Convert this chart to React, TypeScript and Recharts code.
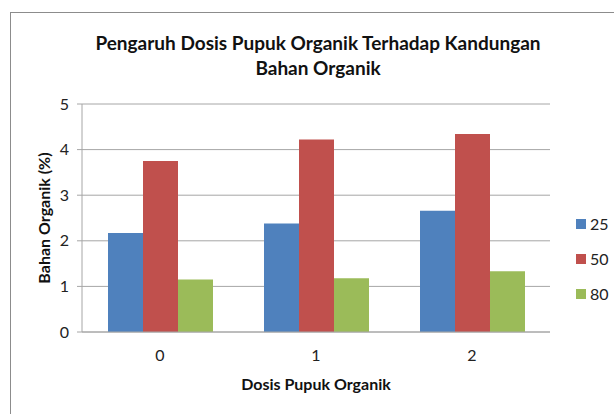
import { BarChart, Bar, XAxis, YAxis, CartesianGrid } from 'recharts';

const categories = ['0', '1', '2'];
const series25 = [2.17, 2.38, 2.66];
const series50 = [3.75, 4.22, 4.34];
const series80 = [1.15, 1.18, 1.33];
const yTicks = [0, 1, 2, 3, 4, 5];

const SERIES = [
  { key: 's25', name: '25', color: '#4f81bd', values: series25 },
  { key: 's50', name: '50', color: '#c0504d', values: series50 },
  { key: 's80', name: '80', color: '#9bbb59', values: series80 },
];

const FONT = 'Lato, "Open Sans", sans-serif';

export default function App() {
  const data = categories.map((c, i) => {
    const row: Record<string, string | number> = { name: c };
    SERIES.forEach((s) => {
      row[s.key] = s.values[i];
    });
    return row;
  });

  return (
    <div style={{ position: 'absolute', left: 0, top: 0, width: 614, height: 414, background: '#fff', fontFamily: FONT }}>
      {/* chart frame */}
      <div style={{ position: 'absolute', left: 10, top: 12, width: 620, height: 420, border: '1px solid #8c8c8c' }} />

      <div style={{ position: 'absolute', left: 0, top: 30, width: 636, textAlign: 'center', fontWeight: 700, fontSize: 19, lineHeight: '25px', color: '#111' }}>
        Pengaruh Dosis Pupuk Organik Terhadap Kandungan
        <br />
        Bahan Organik
      </div>

      <BarChart
        width={614}
        height={414}
        data={data}
        margin={{ top: 104, right: 64, bottom: 52, left: 32 }}
        barGap={0}
        barCategoryGap={26}
        style={{ position: 'absolute', left: 0, top: 0 }}
      >
        <CartesianGrid vertical={false} stroke="#a6a6a6" />
        <XAxis
          dataKey="name"
          height={30}
          tickLine={false}
          axisLine={{ stroke: '#a6a6a6' }}
          tick={{ fill: '#222', fontSize: 16, fontFamily: FONT }}
          tickMargin={12}
        />
        <YAxis
          width={50}
          domain={[0, 5]}
          ticks={yTicks}
          interval={0}
          axisLine={{ stroke: '#a6a6a6' }}
          tickLine={{ stroke: '#a6a6a6' }}
          tickSize={5}
          tickMargin={8}
          tick={{ fill: '#222', fontSize: 16, fontFamily: FONT }}
        />
        {SERIES.map((s) => (
          <Bar key={s.key} dataKey={s.key} name={s.name} fill={s.color} isAnimationActive={false} />
        ))}
      </BarChart>

      <div
        style={{
          position: 'absolute',
          left: 43,
          top: 218,
          transform: 'translate(-50%, -50%) rotate(-90deg)',
          whiteSpace: 'nowrap',
          fontWeight: 700,
          fontSize: 16,
          color: '#111',
        }}
      >
        Bahan Organik (%)
      </div>

      <div style={{ position: 'absolute', left: 0, top: 374, width: 632, textAlign: 'center', fontWeight: 700, fontSize: 16, color: '#111' }}>
        Dosis Pupuk Organik
      </div>

      <div style={{ position: 'absolute', left: 576, top: 206 }}>
        {SERIES.map((s) => (
          <div key={s.key} style={{ display: 'flex', alignItems: 'center', height: 35, fontSize: 16, color: '#222' }}>
            <span style={{ display: 'inline-block', width: 10, height: 10, background: s.color, marginRight: 4 }} />
            {s.name}
          </div>
        ))}
      </div>
    </div>
  );
}
